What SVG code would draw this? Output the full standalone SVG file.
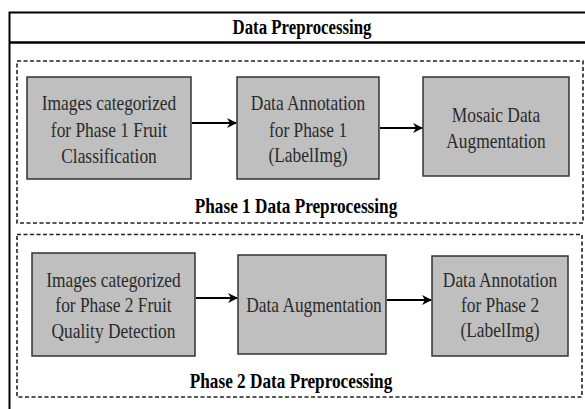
<svg xmlns="http://www.w3.org/2000/svg" width="585" height="409" viewBox="0 0 585 409">
<defs>
<style>
.frame{fill:none;stroke:#000;stroke-width:2}
.dash{fill:none;stroke:#222;stroke-width:1.6;stroke-dasharray:4 2.5}
.box{fill:#bfbfbf;stroke:#333;stroke-width:1.5}
.t{font-family:"Liberation Serif","Times New Roman",serif;font-size:22px;fill:#2a2a2a;text-anchor:middle}
.b{font-family:"Liberation Serif","Times New Roman",serif;font-size:21px;font-weight:bold;fill:#000;text-anchor:middle}
.arr{stroke:#000;stroke-width:2;fill:none}
</style>
<marker id="ah" viewBox="0 0 10 10" refX="9" refY="5" markerWidth="5" markerHeight="5" orient="auto" markerUnits="strokeWidth">
<path d="M0,0 L10,5 L0,10 L3,5 Z" fill="#000"/>
</marker>
</defs>
<rect width="585" height="409" fill="#fff"/>
<g id="frame">
<rect class="frame" x="9.5" y="12.5" width="620" height="420"/>
<line x1="9" y1="42.5" x2="585" y2="42.5" stroke="#000" stroke-width="2.5"/>
<text class="b" transform="translate(302 0) scale(0.8 1)" x="0" y="34">Data Preprocessing</text>
</g>
<g id="phase1">
<rect class="dash" x="17" y="61" width="566" height="162"/>
<text class="b" transform="translate(296 0) scale(0.82 1)" x="0" y="213">Phase 1 Data Preprocessing</text>
</g>
<g id="phase2">
<rect class="dash" x="17" y="234.5" width="565" height="162.5"/>
<text class="b" transform="translate(291 0) scale(0.82 1)" x="0" y="388">Phase 2 Data Preprocessing</text>
</g>
<g id="p1-images">
<rect class="box" x="27" y="77" width="164" height="102"/>
<g transform="translate(109 0) scale(0.79 1)">
<text class="t" x="0" y="110">Images categorized</text>
<text class="t" x="0" y="137">for Phase 1 Fruit</text>
<text class="t" x="0" y="163">Classification</text>
</g>
</g>
<g id="p1-annotation">
<rect class="box" x="237" y="77" width="142" height="102"/>
<g transform="translate(308 0) scale(0.79 1)">
<text class="t" x="0" y="110">Data Annotation</text>
<text class="t" x="0" y="137">for Phase 1</text>
<text class="t" x="0" y="162">(LabelImg)</text>
</g>
</g>
<g id="p1-mosaic">
<rect class="box" x="423" y="77" width="146" height="99"/>
<g transform="translate(496 0) scale(0.79 1)">
<text class="t" x="0" y="122">Mosaic Data</text>
<text class="t" x="0" y="148">Augmentation</text>
</g>
</g>
<g id="p2-images">
<rect class="box" x="32" y="253" width="163" height="103"/>
<g transform="translate(113.5 0) scale(0.79 1)">
<text class="t" x="0" y="287">Images categorized</text>
<text class="t" x="0" y="312">for Phase 2 Fruit</text>
<text class="t" x="0" y="338">Quality Detection</text>
</g>
</g>
<g id="p2-augmentation">
<rect class="box" x="238" y="255" width="148" height="99"/>
<g transform="translate(314 0) scale(0.79 1)">
<text class="t" x="0" y="312">Data Augmentation</text>
</g>
</g>
<g id="p2-annotation">
<rect class="box" x="432" y="256" width="136" height="100"/>
<g transform="translate(500 0) scale(0.79 1)">
<text class="t" x="0" y="287">Data Annotation</text>
<text class="t" x="0" y="312">for Phase 2</text>
<text class="t" x="0" y="337">(LabelImg)</text>
</g>
</g>
<g id="connectors">
<line class="arr" x1="192" y1="123" x2="236" y2="123" marker-end="url(#ah)"/>
<line class="arr" x1="380" y1="128" x2="422" y2="128" marker-end="url(#ah)"/>
<line class="arr" x1="196" y1="298" x2="237" y2="298" marker-end="url(#ah)"/>
<line class="arr" x1="387" y1="300" x2="431" y2="300" marker-end="url(#ah)"/>
</g>
</svg>
